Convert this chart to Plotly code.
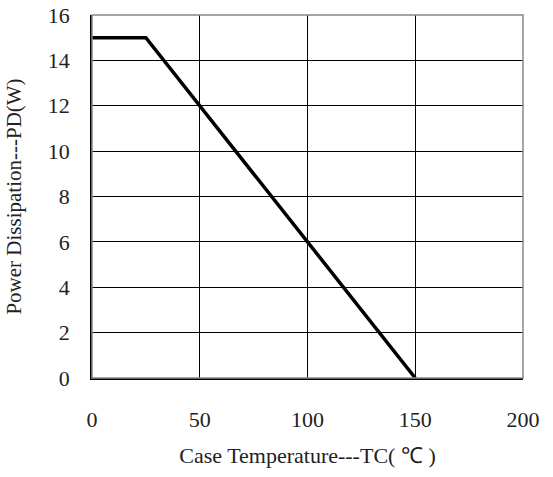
import plotly.graph_objects as go

temp_c = [0, 25, 150]
power_w = [15, 15, 0]
x_ticks = [0, 50, 100, 150, 200]
y_ticks = [0, 2, 4, 6, 8, 10, 12, 14, 16]

fig = go.Figure()
fig.add_trace(go.Scatter(x=temp_c, y=power_w, mode="lines",
                         line=dict(color="black", width=3.5), showlegend=False))

font = dict(family="Liberation Serif", size=22, color="#222")
fig.update_layout(
    width=553, height=477,
    margin=dict(l=92, r=30, t=15, b=99, autoexpand=False),
    paper_bgcolor="white", plot_bgcolor="white",
    font=font,
    xaxis=dict(range=[0, 200], tickvals=x_ticks, showgrid=True, gridcolor="black", gridwidth=1,
               showline=True, linecolor="black", linewidth=1.5, mirror=False,
               zeroline=False, ticks="", ticklabelstandoff=21, automargin=False,
               ticklabeloverflow="allow",
               title=dict(text="Case Temperature---TC( \u2103 )", font=dict(family="Liberation Serif", size=22), standoff=16)),
    yaxis=dict(range=[0, 16], tickvals=y_ticks, showgrid=True, gridcolor="black", gridwidth=1,
               showline=True, linecolor="black", linewidth=1.5,
               zeroline=False, ticks="", ticklabelstandoff=16, automargin=False,
               ticklabeloverflow="allow",
               title=dict(text="Power Dissipation---PD(W)", font=dict(family="Liberation Serif", size=21), standoff=20)),
)
fig.add_shape(type="rect", xref="paper", yref="paper", x0=0, y0=0, x1=1, y1=1,
              line=dict(color="#888", width=1.5), layer="above")
fig.write_html("out.html", config={"displayModeBar": False},
               post_script="document.body.style.margin='0';")
